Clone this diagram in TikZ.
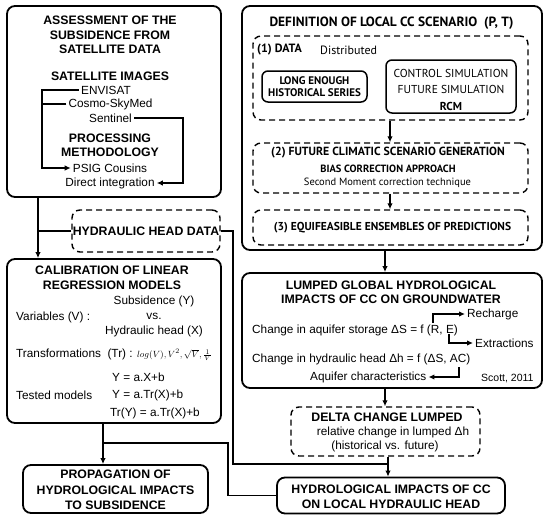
\documentclass[tikz,border=0pt]{standalone}
\usepackage{fontspec}
\setmainfont{Liberation Sans}
\newfontfamily\ptsans{PT Sans}
\usetikzlibrary{arrows.meta}
\newcommand\bodyf{\fontsize{11.8}{14}\selectfont}
\newcommand\titlef{\fontsize{12.3}{14.5}\selectfont\bfseries}
\begin{document}
\begin{tikzpicture}[x=1pt,y=-1pt,
  box/.style={draw, line width=1.8pt, rounded corners=8pt, inner sep=0pt},
  dbox/.style={draw, line width=1.4pt, dash pattern=on 6pt off 4pt, rounded corners=8pt, inner sep=0pt},
  sbox/.style={draw, line width=1.5pt, rounded corners=6pt, inner sep=0pt},
  conn/.style={line width=1.2pt},
  arr/.style={line width=1.2pt, -{Latex[length=6pt,width=5.5pt]}},
  tt/.style={inner sep=0pt, align=center, font=\titlef},
  bt/.style={inner sep=2pt, align=center, font=\bodyf},
  pt/.style={inner sep=0pt, align=center, font=\ptsans\fontsize{10.5}{12}\selectfont},
  ptb/.style={inner sep=0pt, align=center, font=\ptsans\bfseries\fontsize{10.5}{12}\selectfont}]
\useasboundingbox (0,0) rectangle (550,523);

% ---------- boxes ----------
\node[box, minimum width=214pt, minimum height=191pt] (assess) at (114,101.5) {};
\node[dbox, minimum width=148pt, minimum height=42pt] (hhd) at (146,231) {};
\node[box, minimum width=214pt, minimum height=164pt] (calib) at (114,341) {};
\node[box, minimum width=185pt, minimum height=48pt] (prop) at (115.5,489) {};
\node[box, minimum width=300pt, minimum height=244pt] (def) at (392,128) {};
\node[dbox, minimum width=275pt, minimum height=84pt] (data) at (390.5,78) {};
\node[sbox, minimum width=105pt, minimum height=31pt] (long) at (314.5,86.5) {};
\node[sbox, minimum width=130pt, minimum height=53pt] (rcm) at (451,86.5) {};
\node[dbox, minimum width=275pt, minimum height=50pt] (gen) at (390.5,168) {};
\node[dbox, minimum width=275pt, minimum height=35pt] (equi) at (390.5,227.5) {};
\node[box, minimum width=300pt, minimum height=115pt] (lump) at (392,330.5) {};
\node[dbox, minimum width=189pt, minimum height=49pt] (delta) at (385.5,431.5) {};
\node[box, minimum width=228pt, minimum height=36pt] (hyd) at (391,495.5) {};

% ---------- assessment texts ----------
\node[tt] (asst) at (110,35) {ASSESSMENT OF THE\\SUBSIDENCE FROM\\SATELLITE DATA};
\node[tt] (satim) at (110,76) {SATELLITE IMAGES};
\node[bt] (env) at (106,90) {ENVISAT};
\node[bt] (cosmo) at (110.5,104) {Cosmo-SkyMed};
\node[bt] (sent) at (110.5,118) {Sentinel};
\node[tt] (proc) at (110,145.5) {PROCESSING\\METHODOLOGY};
\node[bt] (psig) at (110,168) {PSIG Cousins};
\node[bt] (direct) at (110,183) {Direct integration};

\coordinate (cG) at (42,0);
\coordinate (cH) at (183,0);
\draw[arr] (env.west) -- (env.west -| cG) |- (psig.west);
\draw[conn] (cosmo.west) -- (cosmo.west -| cG);
\draw[arr] (sent.east) -- (sent.east -| cH) |- (direct.east);

% ---------- hydraulic head data ----------
\node[tt] (hhdt) at (146,231) {HYDRAULIC HEAD DATA};

% ---------- calibration ----------
\node[tt] (calt) at (112,278) {CALIBRATION OF LINEAR\\REGRESSION MODELS};
\node[bt] (subs) at (154,301) {Subsidence (Y)};
\node[bt] (vs) at (154,316) {vs.};
\node[bt] (hhx) at (154,331) {Hydraulic head (X)};
\node[bt, anchor=west, inner sep=0pt] (vars) at (16,317) {Variables (V) :};
\node[bt, anchor=west, inner sep=0pt] (transf) at (16,355) {Transformations~~(Tr) : {\fontsize{9.5}{10}\selectfont$log(V), V^{2}, \sqrt{V}, \frac{1}{V}$}};
\node[bt, anchor=west, inner sep=0pt] (m1) at (112,377) {Y = a.X+b};
\node[bt, anchor=west, inner sep=0pt] (tested) at (16,395) {Tested models};
\node[bt, anchor=west, inner sep=0pt] (m2) at (112,395) {Y = a.Tr(X)+b};
\node[bt, anchor=west, inner sep=0pt] (m3) at (110,413) {Tr(Y) = a.Tr(X)+b};

% ---------- propagation ----------
\node[tt, font=\fontsize{12.3}{15.5}\selectfont\bfseries] (propt) at (115.5,490) {PROPAGATION OF\\HYDROLOGICAL IMPACTS\\TO SUBSIDENCE};

% ---------- definition ----------
\node[ptb, font=\ptsans\bfseries\fontsize{13.4}{15}\selectfont] (deft) at (391.5,23) {DEFINITION OF LOCAL CC SCENARIO~~(P, T)};
\node[ptb, anchor=west, font=\ptsans\bfseries\fontsize{12}{13}\selectfont] (d1) at (257,50) {(1) DATA};
\node[pt, anchor=west, font=\ptsans\fontsize{12}{13}\selectfont] (distr) at (320,50) {Distributed};
\node[ptb, font=\ptsans\bfseries\fontsize{11}{11.5}\selectfont] (longt) at (314.5,86.5) {LONG ENOUGH\\HISTORICAL SERIES};
\node[pt, font=\ptsans\fontsize{11.5}{16.5}\selectfont] (rcmt) at (451,89.5) {CONTROL SIMULATION\\FUTURE SIMULATION\\\textbf{RCM}};
\node[ptb, font=\ptsans\bfseries\fontsize{11.8}{13}\selectfont] (gen1) at (388,153) {(2) FUTURE CLIMATIC SCENARIO GENERATION};
\node[ptb] (gen2) at (388,169) {BIAS CORRECTION APPROACH};
\node[pt] (gen3) at (387.5,183) {Second Moment correction technique};
\node[ptb, font=\ptsans\bfseries\fontsize{11.5}{13}\selectfont] (equit) at (392.5,228) {(3) EQUIFEASIBLE ENSEMBLES OF PREDICTIONS};

% ---------- lumped ----------
\node[tt] (lumpt) at (391,292.5) {LUMPED GLOBAL HYDROLOGICAL\\IMPACTS OF CC ON GROUNDWATER};
\node[bt, anchor=west] (rech) at (465,314) {Recharge};
\node[bt, anchor=west, inner sep=0pt] (stor) at (252,330) {Change in aquifer storage ΔS = f (R, E)};
\node[bt, anchor=west] (extr) at (473,343) {Extractions};
\node[bt, anchor=west, inner sep=0pt] (head) at (252,359) {Change in hydraulic head Δh = f (ΔS, AC)};
\node[bt, anchor=west] (aqc) at (308,377) {Aquifer characteristics};
\node[bt, anchor=west, inner sep=0pt, font=\fontsize{10.5}{12}\selectfont] (scott) at (481,378) {Scott, 2011};
\coordinate (pR) at (433,323);
\coordinate (pE) at (449,334);
\coordinate (pAC) at (459,367);
\draw[arr] (pR) |- (rech.west);
\draw[arr] (pE) |- (extr.west);
\draw[arr] (pAC) |- (aqc.east);

% ---------- delta ----------
\node[tt] (deltat) at (387,417) {DELTA CHANGE LUMPED};
\node[bt, inner sep=0pt] (delta2) at (393,432) {relative change in lumped Δh};
\node[bt, inner sep=0pt] (delta3) at (385,446) {(historical vs. future)};

% ---------- hydrological impacts ----------
\node[tt, font=\fontsize{12.3}{15}\selectfont\bfseries] (hydt) at (391,496.5) {HYDROLOGICAL IMPACTS OF CC\\ON LOCAL HYDRAULIC HEAD};

% ---------- connectors ----------
\coordinate (cA) at (38,0);
\draw[arr] (assess.south -| cA) -- (calib.north -| cA);
\draw[conn] (hhd.west) -- (hhd.west -| cA);
\coordinate (cB) at (233,464);
\coordinate (cX) at (388,0);
\draw[conn] (hhd.east) -| (cB) -- (cB -| cX);
\draw[arr] (delta.south -| cX) -- (hyd.north -| cX);
\coordinate (cC) at (103,0);
\draw[arr] (calib.south -| cC) -- (prop.north -| cC);
\coordinate (cD) at (228,443);
\draw[conn] (cC |- cD) -- (cD) |- (hyd.west);
\coordinate (cE) at (385,0);
\draw[arr] (def.south -| cE) -- (lump.north -| cE);
\draw[arr] (lump.south -| cE) -- (delta.north -| cE);
\coordinate (cF) at (390,0);
\draw[arr] (data.south -| cF) -- (gen.north -| cF);
\draw[arr] (gen.south -| cF) -- (equi.north -| cF);
\end{tikzpicture}
\end{document}
